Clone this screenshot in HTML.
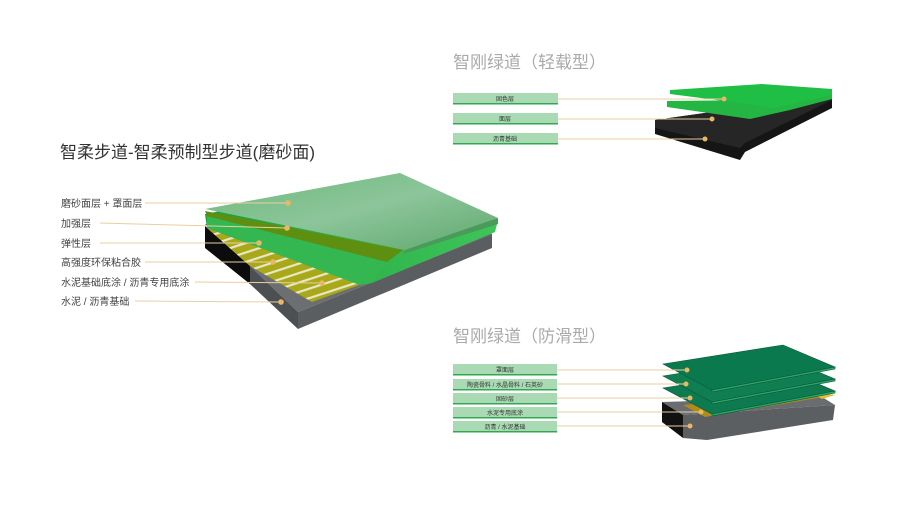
<!DOCTYPE html>
<html><head><meta charset="utf-8"><style>
html,body{margin:0;padding:0;background:#fff;}
svg{display:block;}
text{font-family:"Liberation Sans","Noto Sans CJK SC",sans-serif;}
</style></head><body>
<svg width="900" height="510" viewBox="0 0 900 510" xmlns="http://www.w3.org/2000/svg">
<defs>
<linearGradient id="topg" x1="0" y1="0" x2="1" y2="1"><stop offset="0" stop-color="#6db87a"/><stop offset="0.5" stop-color="#8cc59a"/><stop offset="1" stop-color="#5fa86e"/></linearGradient>
<linearGradient id="grn" x1="0" y1="0" x2="1" y2="0"><stop offset="0" stop-color="#1f9e3a"/><stop offset="1" stop-color="#3dc65a"/></linearGradient>
<pattern id="str" width="9" height="9" patternUnits="userSpaceOnUse" patternTransform="rotate(-18)"><rect width="9" height="9" fill="#a8a818"/><rect y="0" width="9" height="2.2" fill="#e8e8c8"/></pattern>
<clipPath id="yc"><polygon points="207,228 362,284 312,302 250,266"/></clipPath>
</defs>

<text x="60" y="158" font-size="17" fill="#333">智柔步道-智柔预制型步道(磨砂面)</text>

<polygon points="205,224 480,226 492,234 298,312 250,266" fill="#6c6f72"/>
<polygon points="298,312 492,234 492,248 298,329" fill="#5b5e61"/>
<polygon points="250,266 298,312 298,329 250,284" fill="#4d5053"/>
<polygon points="205,226 250,266 250,284 205,248" fill="#0c0c0c"/>
<g clip-path="url(#yc)"><rect x="200" y="220" width="170" height="90" fill="url(#str)"/></g>
<polygon points="205,214 400,176 498,220 495,232 372,283 360,285 207,228" fill="url(#grn)"/>
<polygon points="207,216 387,262 372,283 360,285 207,228" fill="#34b650"/>
<polygon points="205,211 403,250 387,262 207,216" fill="#5f8f10"/>
<polygon points="205,209 400,173 498,218 405,250" fill="url(#topg)"/>
<polygon points="405,250 498,218 498,224 403,254" fill="#4a9a5a"/>

<g font-size="10" fill="#444">
<text x="61" y="207">磨砂面层 + 罩面层</text>
<text x="61" y="227">加强层</text>
<text x="61" y="247">弹性层</text>
<text x="61" y="266">高强度环保粘合胶</text>
<text x="61" y="286">水泥基础底涂 / 沥青专用底涂</text>
<text x="61" y="305">水泥 / 沥青基础</text>
</g>
<g stroke="#e8cfa0" stroke-width="1">
<line x1="145" y1="203" x2="288" y2="203"/>
<line x1="100" y1="223" x2="287" y2="228"/>
<line x1="100" y1="243" x2="259" y2="243"/>
<line x1="145" y1="262" x2="273" y2="262"/>
<line x1="195" y1="282" x2="322" y2="283"/>
<line x1="135" y1="301" x2="281" y2="302"/>
</g>
<g fill="#e8b865">
<circle cx="288" cy="203" r="2.8"/><circle cx="287" cy="228" r="2.8"/><circle cx="259" cy="243" r="2.8"/>
<circle cx="273" cy="262" r="2.8"/><circle cx="322" cy="283" r="2.8"/><circle cx="281" cy="302" r="2.8"/>
</g>

<text x="453" y="68" font-size="17" fill="#aaa">智刚绿道（轻载型）</text>
<polygon points="655,120 832,95 832,108 745,152 740,160 655,134" fill="#151515"/>
<polygon points="655,120 832,95 832,100 745,143 740,148 655,128" fill="#262626"/>
<polygon points="667,101 760,100 832,92 832,99 790,110 750,119 667,107" fill="#25b543"/>
<polygon points="670,90 762,84 832,89 832,95 773,108 740,103 670,94" fill="#1fbe45"/>
<g font-size="6" fill="#333" text-anchor="middle">
<rect x="453" y="93" width="105" height="11" fill="#a9dab4"/><rect x="453" y="103" width="105" height="1.5" fill="#2fa84f"/><text x="505" y="101">固色层</text>
<rect x="453" y="113" width="105" height="11" fill="#a9dab4"/><rect x="453" y="123" width="105" height="1.5" fill="#2fa84f"/><text x="505" y="121">面层</text>
<rect x="453" y="133" width="105" height="11" fill="#a9dab4"/><rect x="453" y="143" width="105" height="1.5" fill="#2fa84f"/><text x="505" y="141">沥青基础</text>
</g>
<g stroke="#e8cfa0"><line x1="558" y1="99" x2="724" y2="99"/><line x1="558" y1="119" x2="712" y2="119"/><line x1="558" y1="139" x2="705" y2="139"/></g>
<g fill="#e8b865"><circle cx="724" cy="99" r="2.5"/><circle cx="712" cy="119" r="2.5"/><circle cx="705" cy="139" r="2.5"/></g>

<text x="453" y="342" font-size="17" fill="#aaa">智刚绿道（防滑型）</text>
<polygon points="662,402 822,397 835,405 683,415" fill="#6a6d70"/>
<polygon points="683,415 835,405 833,420 707,440 683,438" fill="#5c5f62"/>
<polygon points="662,402 683,415 683,438 662,422" fill="#111"/>
<polygon points="683,405 810,392 835,395 705,417" fill="#b08a1a"/>
<polygon points="810,392 835,395 822,399" fill="#e0c030"/>
<g stroke="#0a5a38" stroke-width="0.6">
<polygon points="663,388 783,369 835,391 712,414" fill="#0d7a4f"/>
<polygon points="712,414 835,391 835,393 712,416" fill="#2ea36a"/>
<polygon points="663,376 783,357 835,379 712,402" fill="#0f7f52"/>
<polygon points="712,402 835,379 835,381 712,404" fill="#2ea36a"/>
<polygon points="663,364 783,345 835,367 712,390" fill="#0a7a4e"/>
<polygon points="712,390 835,367 835,369 712,392" fill="#2ea36a"/>
</g>
<g font-size="6" fill="#333" text-anchor="middle">
<rect x="453" y="364" width="104" height="11" fill="#a9dab4"/><rect x="453" y="374" width="104" height="1.5" fill="#2fa84f"/><text x="505" y="372">罩面层</text>
<rect x="453" y="379" width="104" height="11" fill="#a9dab4"/><rect x="453" y="389" width="104" height="1.5" fill="#2fa84f"/><text x="505" y="387">陶瓷骨料 / 水晶骨料 / 石英砂</text>
<rect x="453" y="393" width="104" height="11" fill="#a9dab4"/><rect x="453" y="403" width="104" height="1.5" fill="#2fa84f"/><text x="505" y="401">固砂层</text>
<rect x="453" y="407" width="104" height="11" fill="#a9dab4"/><rect x="453" y="417" width="104" height="1.5" fill="#2fa84f"/><text x="505" y="415">水泥专用底涂</text>
<rect x="453" y="421" width="104" height="11" fill="#a9dab4"/><rect x="453" y="431" width="104" height="1.5" fill="#2fa84f"/><text x="505" y="429">沥青 / 水泥基础</text>
</g>
<g stroke="#e8cfa0"><line x1="557" y1="370" x2="687" y2="370"/><line x1="557" y1="384" x2="686" y2="384"/><line x1="557" y1="398" x2="690" y2="398"/><line x1="557" y1="412" x2="701" y2="412"/><line x1="557" y1="426" x2="690" y2="426"/></g>
<g fill="#e8b865"><circle cx="687" cy="370" r="2.5"/><circle cx="686" cy="384" r="2.5"/><circle cx="690" cy="398" r="2.5"/><circle cx="701" cy="412" r="2.5"/><circle cx="690" cy="426" r="2.5"/></g>
</svg>
</body></html>
